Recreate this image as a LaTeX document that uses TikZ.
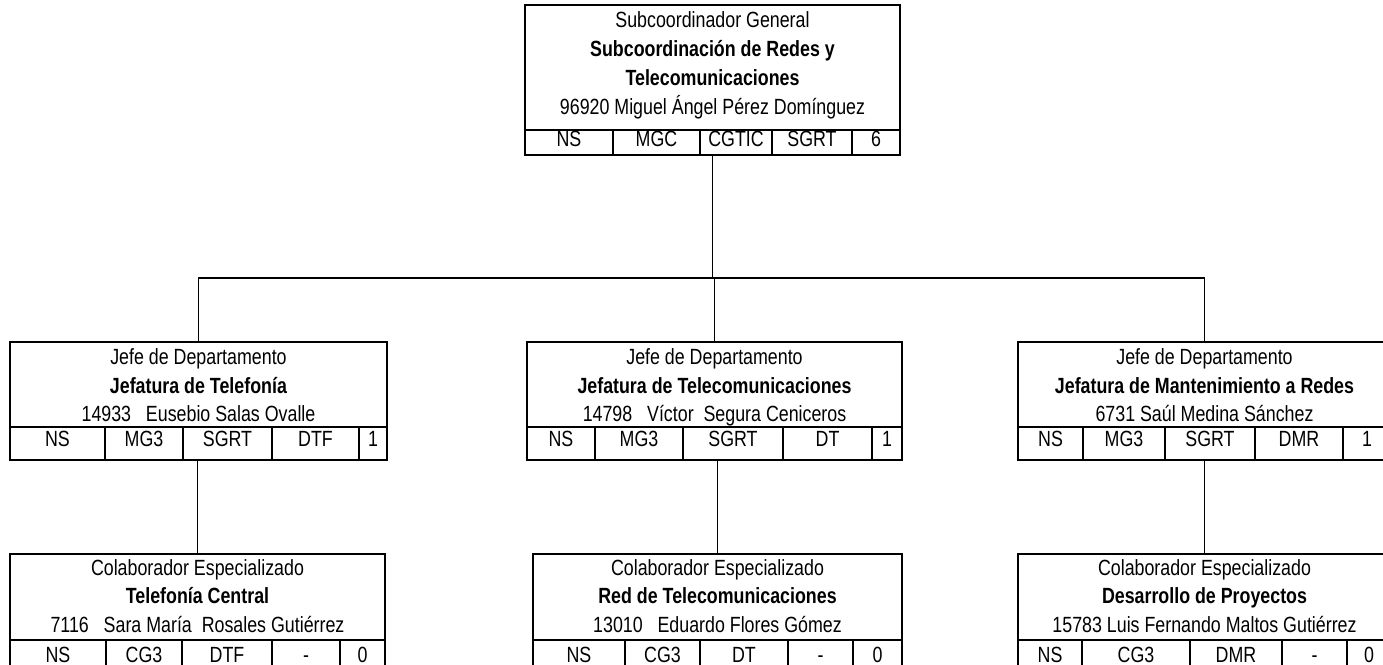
\documentclass[tikz,border=0pt]{standalone}
\usepackage{fontspec}
\setmainfont{Liberation Sans}[FakeStretch=0.81]
\usetikzlibrary{positioning}

\begin{document}
\begin{tikzpicture}[x=1pt, y=1pt,
    head/.style={rectangle, draw, line width=2.2pt, align=center, inner sep=0pt, outer sep=0pt, anchor=north west, font=\fontsize{22}{28.5}\selectfont, text height=80pt, text depth=5pt},
    tophead/.style={head, font=\fontsize{22}{29}\selectfont, text height=110pt, text depth=15pt},
    lowhead/.style={head, text height=78pt, text depth=8pt},
    cell/.style={rectangle, draw, line width=2.2pt, inner sep=0pt, outer sep=0pt, font=\fontsize{22}{24}\selectfont, text height=20pt, text depth=13pt},
    topcell/.style={cell, text height=17pt, text depth=8pt},
    lowcell/.style={cell, text height=22pt, text depth=11pt},
    link/.style={line width=1.4pt}]

    \useasboundingbox (0,0) rectangle (1383,664);
    \clip (0,0) rectangle (1383,664);

    % Subcoordinacion
    \node[tophead, minimum width=375pt] (sub) at (525,659) {Subcoordinador General\\\textbf{Subcoordinación de Redes y}\\\textbf{Telecomunicaciones}\\96920 Miguel Ángel Pérez Domínguez};
    \node[topcell, minimum width=88pt, anchor=north west] (sub1) at (sub.south west) {NS};
    \node[topcell, minimum width=87pt, right=0pt of sub1] (sub2) {MGC};
    \node[topcell, minimum width=72pt, right=0pt of sub2] (sub3) {CGTIC};
    \node[topcell, minimum width=80pt, right=0pt of sub3] (sub4) {SGRT};
    \node[topcell, minimum width=48pt, right=0pt of sub4] (sub5) {6};

    % Jefaturas
    \node[head, minimum width=377pt] (jtel) at (10,322) {Jefe de Departamento\\\textbf{Jefatura de Telefonía}\\14933\ \ \ Eusebio Salas Ovalle};
    \node[cell, minimum width=95pt, anchor=north west] (jtel1) at (jtel.south west) {NS};
    \node[cell, minimum width=78pt, right=0pt of jtel1] (jtel2) {MG3};
    \node[cell, minimum width=89pt, right=0pt of jtel2] (jtel3) {SGRT};
    \node[cell, minimum width=87pt, right=0pt of jtel3] (jtel4) {DTF};
    \node[cell, minimum width=28pt, right=0pt of jtel4] (jtel5) {1};

    \node[head, minimum width=375pt] (jtc) at (527,322) {Jefe de Departamento\\\textbf{Jefatura de Telecomunicaciones}\\14798\ \ \ Víctor\ \ Segura Ceniceros};
    \node[cell, minimum width=68pt, anchor=north west] (jtc1) at (jtc.south west) {NS};
    \node[cell, minimum width=88pt, right=0pt of jtc1] (jtc2) {MG3};
    \node[cell, minimum width=100pt, right=0pt of jtc2] (jtc3) {SGRT};
    \node[cell, minimum width=89pt, right=0pt of jtc3] (jtc4) {DT};
    \node[cell, minimum width=30pt, right=0pt of jtc4] (jtc5) {1};

    \node[head, minimum width=373pt] (jmr) at (1018,322) {Jefe de Departamento\\\textbf{Jefatura de Mantenimiento a Redes}\\6731 Saúl Medina Sánchez};
    \node[cell, minimum width=65pt, anchor=north west] (jmr1) at (jmr.south west) {NS};
    \node[cell, minimum width=82pt, right=0pt of jmr1] (jmr2) {MG3};
    \node[cell, minimum width=90pt, right=0pt of jmr2] (jmr3) {SGRT};
    \node[cell, minimum width=88pt, right=0pt of jmr3] (jmr4) {DMR};
    \node[cell, minimum width=48pt, right=0pt of jmr4] (jmr5) {1};

    % Colaboradores
    \node[lowhead, minimum width=375pt] (tc) at (10,110) {Colaborador Especializado\\\textbf{Telefonía Central}\\7116\ \ \ Sara María\ \ Rosales Gutiérrez};
    \node[lowcell, minimum width=96pt, anchor=north west] (tc1) at (tc.south west) {NS};
    \node[lowcell, minimum width=76pt, right=0pt of tc1] (tc2) {CG3};
    \node[lowcell, minimum width=90pt, right=0pt of tc2] (tc3) {DTF};
    \node[lowcell, minimum width=68pt, right=0pt of tc3] (tc4) {-};
    \node[lowcell, minimum width=45pt, right=0pt of tc4] (tc5) {0};

    \node[lowhead, minimum width=369pt] (rt) at (533,110) {Colaborador Especializado\\\textbf{Red de Telecomunicaciones}\\13010\ \ \ Eduardo Flores Gómez};
    \node[lowcell, minimum width=92pt, anchor=north west] (rt1) at (rt.south west) {NS};
    \node[lowcell, minimum width=75pt, right=0pt of rt1] (rt2) {CG3};
    \node[lowcell, minimum width=88pt, right=0pt of rt2] (rt3) {DT};
    \node[lowcell, minimum width=65pt, right=0pt of rt3] (rt4) {-};
    \node[lowcell, minimum width=49pt, right=0pt of rt4] (rt5) {0};

    \node[lowhead, minimum width=373pt] (dp) at (1018,110) {Colaborador Especializado\\\textbf{Desarrollo de Proyectos}\\15783 Luis Fernando Maltos Gutiérrez};
    \node[lowcell, minimum width=64pt, anchor=north west] (dp1) at (dp.south west) {NS};
    \node[lowcell, minimum width=108pt, right=0pt of dp1] (dp2) {CG3};
    \node[lowcell, minimum width=92pt, right=0pt of dp2] (dp3) {DMR};
    \node[lowcell, minimum width=65pt, right=0pt of dp3] (dp4) {-};
    \node[lowcell, minimum width=44pt, right=0pt of dp4] (dp5) {0};

    % Connectors
    \coordinate (bus) at (712.5,386);
    \draw[link] (sub3.south -| sub.south) -- (bus);
    \draw[link] (jtel.north) |- (bus) -| (jmr.north);
    \draw[link] (jtc.north |- bus) -- (jtc.north);
    \draw[link] (jtel3.south -| tc.north) -- (tc.north);
    \draw[link] (jtc3.south -| rt.north) -- (rt.north);
    \draw[link] (jmr3.south -| dp.north) -- (dp.north);

\end{tikzpicture}
\end{document}
